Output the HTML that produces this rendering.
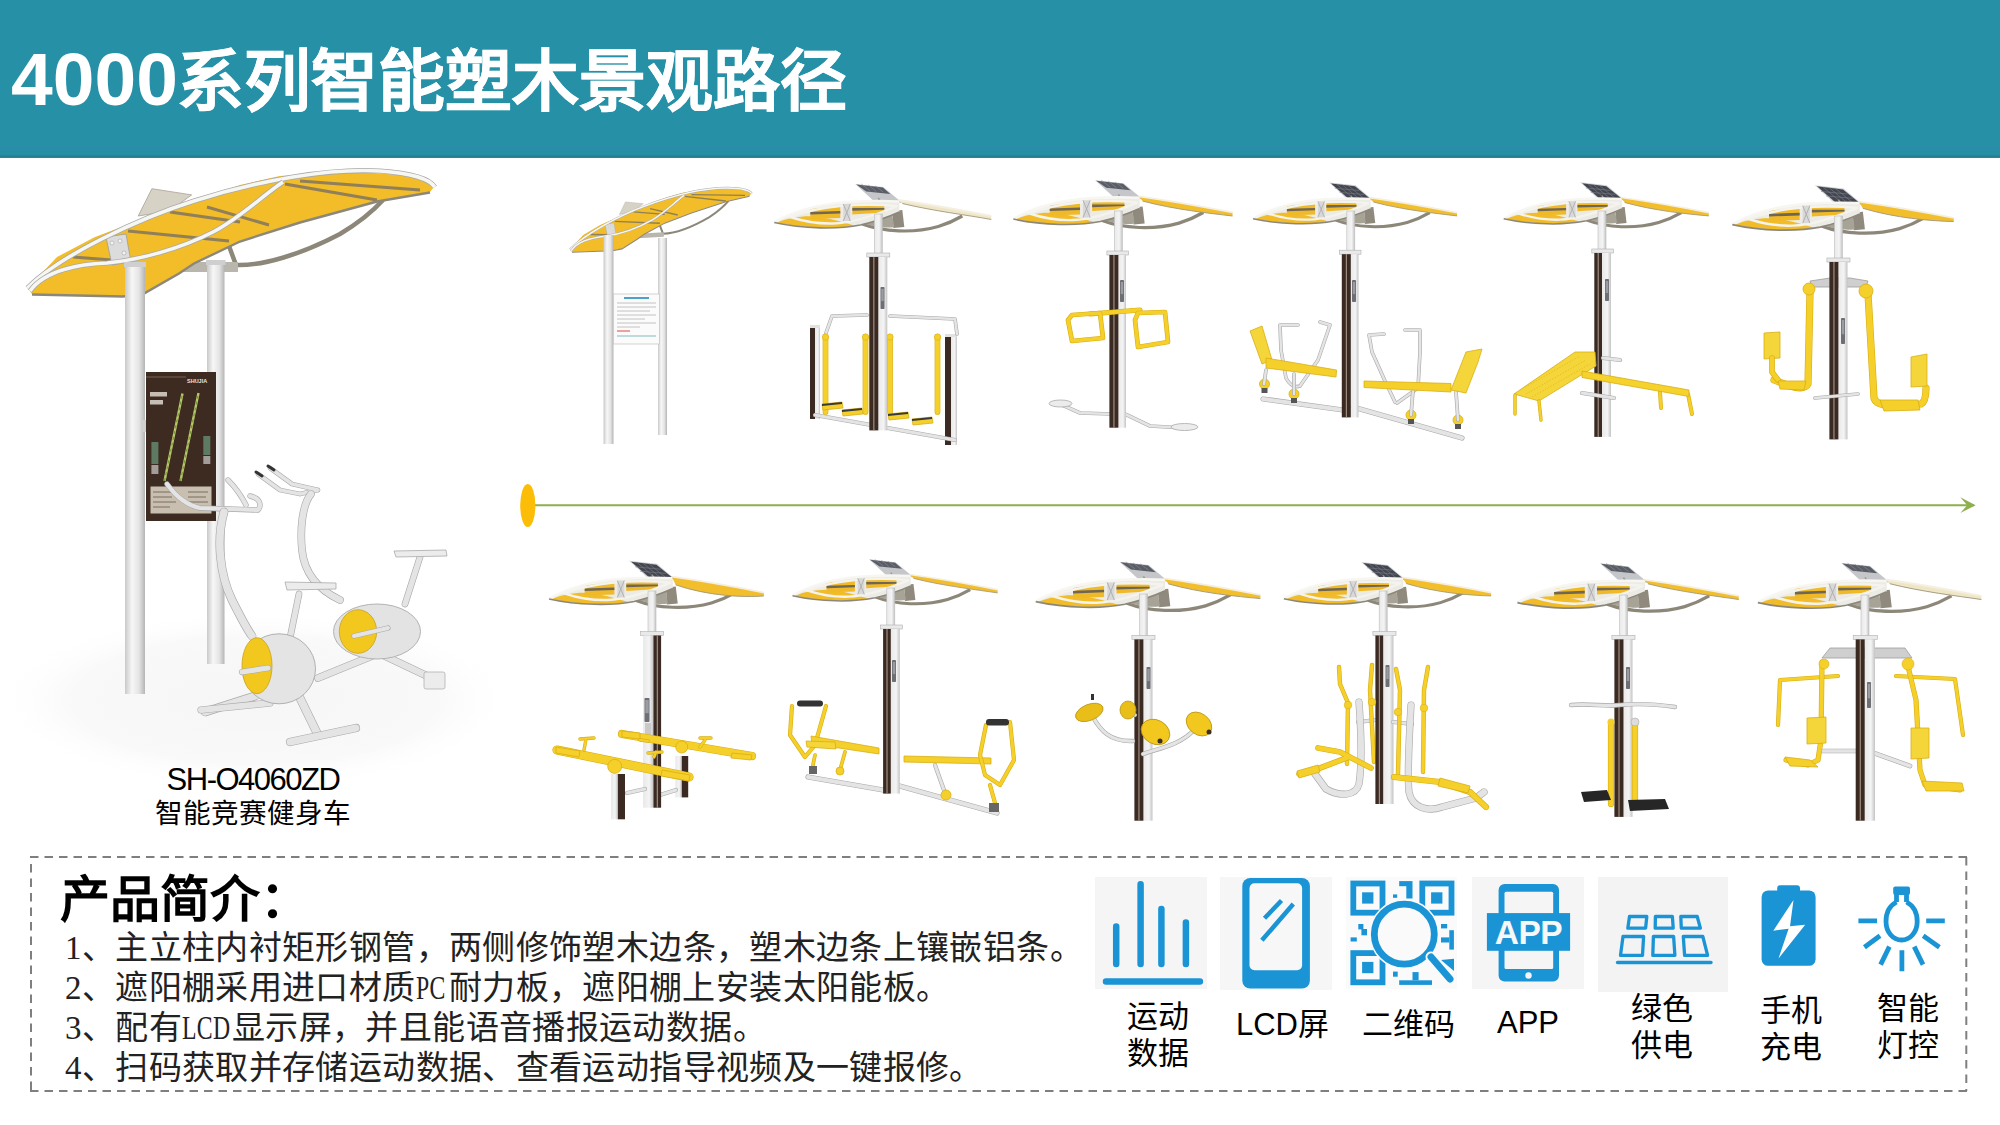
<!DOCTYPE html>
<html lang="zh-CN">
<head>
<meta charset="utf-8">
<title>4000系列智能塑木景观路径</title>
<style>
html,body{margin:0;padding:0;background:#fff;}
body{position:relative;width:2000px;height:1125px;overflow:hidden;font-family:"Liberation Sans",sans-serif;color:#000;}
.hdr{position:absolute;left:0;top:0;width:2000px;height:158px;background:linear-gradient(to bottom,#2690a7 0,#2690a7 92%,#2a8bab 94.5%,#24909e 96%,#2690a7 97.5%,#217f90 99%,#2a8a9c 100%);}
.title{position:absolute;left:11px;top:29px;font-size:66.8px;line-height:100px;font-weight:bold;color:#fff;white-space:nowrap;letter-spacing:0;}
.title .dg{font-size:75px;}
.title .cj{margin-left:-0.5px;-webkit-text-stroke:0.5px #fff;}
svg.art{position:absolute;left:0;top:0;}
.cap1{position:absolute;left:0;width:506px;top:761.5px;text-align:center;font-size:31px;letter-spacing:-1.5px;line-height:36px;white-space:nowrap;}
.cap2{position:absolute;left:0;width:506px;top:796px;text-align:center;font-size:27.6px;line-height:36px;white-space:nowrap;}
.intro-h{position:absolute;left:60px;top:870px;font-family:"Liberation Serif",serif;font-weight:bold;font-size:50px;line-height:60px;white-space:nowrap;}
.intro{position:absolute;left:65px;top:928px;font-family:"Liberation Serif",serif;color:#222;font-size:33px;letter-spacing:0.37px;line-height:40px;white-space:nowrap;}
.intro div{height:40px;}
.hw{display:inline-block;transform:scaleX(0.72);transform-origin:0 0;}
.hw2{display:inline-block;width:33.3px;}
.hw3{display:inline-block;width:50px;}
.lbl{position:absolute;font-size:31px;line-height:37px;text-align:center;white-space:nowrap;}
</style>
</head>
<body>
<div class="hdr"></div>
<div class="title"><span class="dg">4000</span><span class="cj">系列智能塑木景观路径</span></div>

<svg class="art" width="2000" height="1125" viewBox="0 0 2000 1125">
  <!--ART-->
  <defs>
<linearGradient id="rp" x1="0" x2="1" y1="0" y2="0">
 <stop offset="0" stop-color="#c9c9c9"/><stop offset="0.35" stop-color="#f7f7f7"/><stop offset="0.7" stop-color="#e4e4e4"/><stop offset="1" stop-color="#b5b5b5"/>
</linearGradient>
<linearGradient id="sv" x1="0" x2="1" y1="0" y2="0">
 <stop offset="0" stop-color="#e9e9e9"/><stop offset="0.6" stop-color="#f4f4f4"/><stop offset="1" stop-color="#c4c4c4"/>
</linearGradient>
<radialGradient id="floor" cx="0.5" cy="0.5" r="0.5">
 <stop offset="0" stop-color="#f6f6f6"/><stop offset="0.7" stop-color="#f9f9f9"/><stop offset="1" stop-color="#ffffff" stop-opacity="0"/>
</radialGradient>
<g id="can">
 <!-- underside crescent -->
 <path d="M-16,6 C5,14 35,15.5 60,8.5 C70,5.5 78,1.5 84,-2" fill="none" stroke="#8c8779" stroke-width="3.2"/>
 <path d="M14,-7 L24,-8 L26,9 L15,10 Z" fill="#8f8a7d"/>
 <path d="M-16,5 C0,10 10,10 16,9 L14,-3 Z" fill="#a7a397"/>
 <!-- lens -->
 <path d="M-104,4.5 C-88,-5 -62,-13.5 -30,-16 C-5,-17.5 10,-17 21,-16.5 L21,-6 C10,-1 -5,4 -18,7 C-40,11.5 -75,11 -104,4.5 Z" fill="#ecebe6"/>
 <!-- yellow lower-left band -->
 <path d="M-101,4.5 C-88,-1 -72,-3 -58,-1 C-46,1 -36,4 -24,7.5 C-42,11 -75,10.5 -101,4.5 Z" fill="#f1bc28"/>
 <!-- inner yellow panels -->
 <path d="M-68,-9.5 L-38,-11 L-38,0 L-68,1 Z" fill="#f0b928"/>
 <path d="M-26,-13 L6,-13 L6,-5.5 L-26,-3.5 Z" fill="#f0b928"/>
 <path d="M-68,-6 L-38,-7 L-38,-4.5 L-68,-3.5 Z" fill="#6f6653"/>
 <path d="M-26,-10 L6,-10 L6,-8.3 L-26,-7.3 Z" fill="#6f6653"/>
 <!-- inner tube loop -->
 <path d="M-88,-1 C-60,-12 -20,-15.5 19,-12 C0,-4 -25,5 -45,5.5 C-62,6 -76,3 -88,-1 Z" fill="none" stroke="#f4f3ee" stroke-width="2.4"/>
 <!-- rims -->
 <path d="M-104,4.5 C-88,-5 -62,-13.5 -30,-16 C-5,-17.5 10,-17 21,-16.5" fill="none" stroke="#f7f6f1" stroke-width="2.6"/>
 <path d="M-104,4.5 C-75,11 -40,11.5 -18,7 C-5,4 10,-1 21,-6" fill="none" stroke="#8c8779" stroke-width="1.6"/>
 <!-- bracket -->
 <rect x="-35" y="-14" width="7" height="17" fill="#d8d8d8"/>
 <path d="M-35,-14 L-28,3 M-28,-14 L-35,3" stroke="#a8a8a8" stroke-width="0.8"/>
</g>
</defs>
  <g id="big">
  <ellipse cx="255" cy="700" rx="260" ry="90" fill="url(#floor)"/>
  <g id="bigcan">
  <polygon points="151.9,188.7 191.7,194.9 169.3,211.1 138.2,216" fill="#d6d2c6" stroke="#a8a294" stroke-width="0.8"/>
  <path d="M229,246 L236,265 C262,266 300,255 340,234 C360,222 374,210 383,200" fill="none" stroke="#8c8779" stroke-width="4.5"/>
  <path d="M180,262 L238,262 L238,272 L180,272 Z" fill="#b9b6ad"/>
  <polygon points="27.5,288.2 57,257 95,237 144,218.5 194,201 240,185 280,176 345,171 414,176 434.7,186 430,192 377,201 300,222 240,241 194,263 179,273 144,293 123,296 32,294" fill="#f2bd28"/>
  <path d="M170,212 L240,222 M128,231 L229,241 M73,257 L112,260 M285,184 L377,200 M207,207 L269,225 M300,181 L420,190" stroke="#7f7460" stroke-width="3" fill="none" opacity="0.85"/>
  <path d="M32,294.5 L123,296.5 L144,293.5 L179,273.5 L194,263.5 L240,241.5 L300,222.5 L377,201.5 L430,192.5" fill="none" stroke="#8c8779" stroke-width="2.4"/>
  <polygon points="106,237 126,234 131,262 112,265" fill="#dcdcdc" stroke="#9d9d9d" stroke-width="0.8"/>
  <circle cx="112" cy="243" r="2" fill="#f4f4f4" stroke="#999" stroke-width="0.5"/><circle cx="120" cy="241" r="2" fill="#f4f4f4" stroke="#999" stroke-width="0.5"/><circle cx="124" cy="253" r="2" fill="#f4f4f4" stroke="#999" stroke-width="0.5"/>
  <path d="M27.5,288 C60,255 140,218 194,201 C260,180 330,168 380,171 C410,173 430,179 434.7,187" fill="none" stroke="#a9a9a9" stroke-width="5.2"/>
  <path d="M27.5,288 C60,255 140,218 194,201 C260,180 330,168 380,171 C410,173 430,179 434.7,187" fill="none" stroke="#f6f6f3" stroke-width="3.6"/>
  <path d="M30,291 C45,270 80,264 107,263 C140,260 182,248 213,232 C240,218 262,196 283,182" fill="none" stroke="#a9a9a9" stroke-width="5.2"/>
  <path d="M30,291 C45,270 80,264 107,263 C140,260 182,248 213,232 C240,218 262,196 283,182" fill="none" stroke="#f6f6f3" stroke-width="3.6"/>
  </g>
  <rect x="125" y="262" width="20" height="432" fill="url(#rp)"/>
  <rect x="207" y="260" width="17.5" height="404" fill="url(#rp)"/>
  <rect x="124" y="262" width="22" height="5" fill="#cfcfcf"/>
  <rect x="206" y="260" width="19.5" height="5" fill="#cfcfcf"/>
  <rect x="141" y="420" width="5" height="12" fill="#cfcfcf"/>
  <rect x="146" y="372" width="70" height="149" fill="#3d2a21"/>
  <rect x="146" y="376" width="40" height="2" fill="#5a4538"/>
  <text x="187" y="383" font-size="5.5" fill="#e6e6e6" font-family="Liberation Sans" font-weight="bold">SHUJIA</text>
  <rect x="150" y="392" width="17" height="4.5" fill="#e8e2da" opacity="0.8"/><rect x="150" y="400" width="13" height="4.5" fill="#e8e2da" opacity="0.8"/>
  <path d="M164.5,481 L182.5,393.5 M180.5,481 L198.5,393" stroke="#b9c56a" stroke-width="2.4"/>
  <path d="M164.5,481 L182.5,393.5 M180.5,481 L198.5,393" stroke="#6f9a35" stroke-width="1.2" stroke-dasharray="3 3"/>
  <rect x="151.4" y="442" width="7" height="22" fill="#5f7a63"/><rect x="151.4" y="465" width="7" height="9" fill="#cfcfcf" opacity="0.7"/>
  <rect x="203.3" y="436" width="7" height="19" fill="#5f7a63"/><rect x="203.3" y="456" width="7" height="8" fill="#cfcfcf" opacity="0.7"/>
  <rect x="150.5" y="486.5" width="61" height="27" fill="#c9bfb1"/>
  <path d="M153,492 H175 M153,497 H172 M153,502 H176 M153,507 H170 M188,492 H208 M188,497 H206 M188,502 H208" stroke="#7b6d60" stroke-width="1"/>
  <path d="M258,474 L280,490 L300,494 M270,468 L292,484 L318,490 M300,494 L318,490" fill="none" stroke="#a9a9a9" stroke-width="4.7" stroke-linecap="round" stroke-linejoin="round"/>
  <path d="M258,474 L280,490 L300,494 M270,468 L292,484 L318,490 M300,494 L318,490" fill="none" stroke="#e4e4e4" stroke-width="3.5" stroke-linecap="round" stroke-linejoin="round"/>
  <path d="M256,472 L262,476" stroke="#333" stroke-width="3" stroke-linecap="round"/><path d="M268,466 L274,470" stroke="#333" stroke-width="3" stroke-linecap="round"/>
  <path d="M311,494 C302,505 300,530 302,550 C304,570 315,588 340,600" fill="none" stroke="#a9a9a9" stroke-width="7.7" stroke-linecap="round" stroke-linejoin="round"/>
  <path d="M311,494 C302,505 300,530 302,550 C304,570 315,588 340,600" fill="none" stroke="#e4e4e4" stroke-width="6.5" stroke-linecap="round" stroke-linejoin="round"/>
  <path d="M372,656 L318,678 M385,656 L425,675 L440,682" fill="none" stroke="#a9a9a9" stroke-width="7.7" stroke-linecap="round" stroke-linejoin="round"/>
  <path d="M372,656 L318,678 M385,656 L425,675 L440,682" fill="none" stroke="#e4e4e4" stroke-width="6.5" stroke-linecap="round" stroke-linejoin="round"/>
  <path d="M420,557 L405,604" fill="none" stroke="#a9a9a9" stroke-width="6.7" stroke-linecap="round" stroke-linejoin="round"/>
  <path d="M420,557 L405,604" fill="none" stroke="#e4e4e4" stroke-width="5.5" stroke-linecap="round" stroke-linejoin="round"/>
  <path d="M394,551 L446,550 L447,556 L396,557 Z" fill="#ececec" stroke="#a9a9a9" stroke-width="0.8"/>
  <rect x="424" y="672" width="21" height="17" rx="2" fill="#ececec" stroke="#aaa" stroke-width="0.7"/>
  <ellipse cx="377" cy="631.5" rx="43.5" ry="27.5" fill="#e3e3e3" stroke="#b3b3b3" stroke-width="1"/>
  <ellipse cx="358" cy="631.5" rx="18.7" ry="21.8" fill="#f2c81e" stroke="#c9a21a" stroke-width="0.8"/>
  <path d="M354,636 L388,628" fill="none" stroke="#a9a9a9" stroke-width="5.2" stroke-linecap="round" stroke-linejoin="round"/>
  <path d="M354,636 L388,628" fill="none" stroke="#e4e4e4" stroke-width="4" stroke-linecap="round" stroke-linejoin="round"/>
  <path d="M167,484 C175,495 185,505 200,508 L258,510 C262,505 260,498 250,496 M228,480 C236,488 242,497 246,505" fill="none" stroke="#a9a9a9" stroke-width="5.4" stroke-linecap="round" stroke-linejoin="round"/>
  <path d="M167,484 C175,495 185,505 200,508 L258,510 C262,505 260,498 250,496 M228,480 C236,488 242,497 246,505" fill="none" stroke="#e4e4e4" stroke-width="4.2" stroke-linecap="round" stroke-linejoin="round"/>
  <path d="M224,512 C216,540 220,575 232,600 C240,616 246,628 252,636" fill="none" stroke="#a9a9a9" stroke-width="8.7" stroke-linecap="round" stroke-linejoin="round"/>
  <path d="M224,512 C216,540 220,575 232,600 C240,616 246,628 252,636" fill="none" stroke="#e4e4e4" stroke-width="7.5" stroke-linecap="round" stroke-linejoin="round"/>
  <path d="M299,594 L290,638" fill="none" stroke="#a9a9a9" stroke-width="6.7" stroke-linecap="round" stroke-linejoin="round"/>
  <path d="M299,594 L290,638" fill="none" stroke="#e4e4e4" stroke-width="5.5" stroke-linecap="round" stroke-linejoin="round"/>
  <path d="M285,582 L336,583 L336,589 L287,590 Z" fill="#ececec" stroke="#a9a9a9" stroke-width="0.8"/>
  <path d="M255,696 L205,712 M300,698 L318,735" fill="none" stroke="#a9a9a9" stroke-width="8.7" stroke-linecap="round" stroke-linejoin="round"/>
  <path d="M255,696 L205,712 M300,698 L318,735" fill="none" stroke="#e4e4e4" stroke-width="7.5" stroke-linecap="round" stroke-linejoin="round"/>
  <path d="M290,742 L356,728" fill="none" stroke="#a9a9a9" stroke-width="8.2" stroke-linecap="round" stroke-linejoin="round"/>
  <path d="M290,742 L356,728" fill="none" stroke="#e4e4e4" stroke-width="7" stroke-linecap="round" stroke-linejoin="round"/>
  <path d="M201,710 L270,703" fill="none" stroke="#a9a9a9" stroke-width="7.2" stroke-linecap="round" stroke-linejoin="round"/>
  <path d="M201,710 L270,703" fill="none" stroke="#e4e4e4" stroke-width="6" stroke-linecap="round" stroke-linejoin="round"/>
  <ellipse cx="279" cy="668.8" rx="36.5" ry="35" fill="#e4e4e4" stroke="#b0b0b0" stroke-width="1"/>
  <ellipse cx="257" cy="665.7" rx="15" ry="28" fill="#f2c81e" stroke="#c9a21a" stroke-width="0.8"/>
  <path d="M242,672 L268,668" fill="none" stroke="#a9a9a9" stroke-width="6.2" stroke-linecap="round" stroke-linejoin="round"/>
  <path d="M242,672 L268,668" fill="none" stroke="#e4e4e4" stroke-width="5" stroke-linecap="round" stroke-linejoin="round"/>
  </g>
  <g id="t1">
  <use href="#bigcan" transform="matrix(0.446,-0.0265,0,0.446,557.73,121.79)"/>
  <rect x="603.5" y="235" width="10" height="209" fill="url(#rp)"/>
  <rect x="658" y="238" width="9" height="197" fill="url(#rp)"/>
  <rect x="613.5" y="294" width="46" height="50" fill="#fbfbfb" stroke="#c8c8c8" stroke-width="0.8"/>
  <rect x="624" y="297" width="25" height="2" fill="#4ba3c8"/>
  <path d="M617,303 H656 M617,307 H656 M617,311 H650 M617,315 H656 M617,319 H645 M617,323 H656 M617,327 H640" stroke="#b5b5b5" stroke-width="0.8"/>
  <path d="M617,331 H630" stroke="#d44" stroke-width="1"/><path d="M617,336 H656" stroke="#6aa" stroke-width="0.8"/>
  </g>
  <g transform="translate(878.3,218) scale(1.0,1.0)">
  <path d="M-23,-34 L5,-31 L24,-15 L-4,-16.5 Z" fill="#c4c6ca"/>
  <path d="M-22,-33.5 L4.5,-30.5 L12,-24 L-12,-26.5 Z" fill="#5a5d66"/>
  <path d="M-17,-34 L-8,-27 M-10,-33 L-2,-26.5 M-3,-32 L5,-26" stroke="#8b8e96" stroke-width="0.6" fill="none"/>
  <path d="M0,-20 L3,-15" stroke="#999" stroke-width="1.5"/>
  <use href="#can"/>
  <path d="M20,-18 C45,-14.5 80,-8.5 113,-2 L113,1.5 C90,-2.8 55,-7.0 24,-14.5 Z" fill="#efe6c6"/>
  <path d="M24,-14.5 C55,-7.0 90,-2.8 113,1.5" fill="none" stroke="#a0977e" stroke-width="0.9"/>
  <path d="M20,-18 C45,-14.5 80,-8.5 113,-2" fill="none" stroke="#f4efe0" stroke-width="1.8"/>
  </g>
  <rect x="874.3" y="214" width="8" height="40" fill="url(#sv)" stroke="#bdbdbd" stroke-width="0.6"/>
  <rect x="810" y="325" width="5.0" height="94" fill="#3a2a22"/>
  <rect x="815.0" y="325" width="5.0" height="94" fill="url(#sv)"/>
  <rect x="810" y="325" width="10" height="3" fill="#e2e2e2"/>
  <rect x="945" y="334" width="6.0" height="111" fill="#3a2a22"/>
  <rect x="951.0" y="334" width="6.0" height="111" fill="url(#sv)"/>
  <rect x="945" y="334" width="12" height="3" fill="#e2e2e2"/>
  <path d="M826,333 L832,316 L867,315 M890,316 L955,319 L957,334" fill="none" stroke="#a9a9a9" stroke-width="3.7" stroke-linecap="round" stroke-linejoin="round"/>
  <path d="M826,333 L832,316 L867,315 M890,316 L955,319 L957,334" fill="none" stroke="#e4e4e4" stroke-width="2.5" stroke-linecap="round" stroke-linejoin="round"/>
  <path d="M815,415 L955,440" fill="none" stroke="#a9a9a9" stroke-width="4.2" stroke-linecap="round" stroke-linejoin="round"/>
  <path d="M815,415 L955,440" fill="none" stroke="#e4e4e4" stroke-width="3" stroke-linecap="round" stroke-linejoin="round"/>
  <path d="M825.5,337 L825.5,412" fill="none" stroke="#d8ae12" stroke-width="5.7" stroke-linecap="round" stroke-linejoin="round"/>
  <path d="M825.5,337 L825.5,412" fill="none" stroke="#f6d02a" stroke-width="4.5" stroke-linecap="round" stroke-linejoin="round"/>
  <circle cx="825.5" cy="337" r="3.2" fill="#f6d02a" stroke="#d8ae12" stroke-width="0.6"/>
  <path d="M865.5,337 L865.5,412" fill="none" stroke="#d8ae12" stroke-width="5.7" stroke-linecap="round" stroke-linejoin="round"/>
  <path d="M865.5,337 L865.5,412" fill="none" stroke="#f6d02a" stroke-width="4.5" stroke-linecap="round" stroke-linejoin="round"/>
  <circle cx="865.5" cy="337" r="3.2" fill="#f6d02a" stroke="#d8ae12" stroke-width="0.6"/>
  <path d="M890,337 L890,412" fill="none" stroke="#d8ae12" stroke-width="5.7" stroke-linecap="round" stroke-linejoin="round"/>
  <path d="M890,337 L890,412" fill="none" stroke="#f6d02a" stroke-width="4.5" stroke-linecap="round" stroke-linejoin="round"/>
  <circle cx="890" cy="337" r="3.2" fill="#f6d02a" stroke="#d8ae12" stroke-width="0.6"/>
  <path d="M937.5,337 L937.5,412" fill="none" stroke="#d8ae12" stroke-width="5.7" stroke-linecap="round" stroke-linejoin="round"/>
  <path d="M937.5,337 L937.5,412" fill="none" stroke="#f6d02a" stroke-width="4.5" stroke-linecap="round" stroke-linejoin="round"/>
  <circle cx="937.5" cy="337" r="3.2" fill="#f6d02a" stroke="#d8ae12" stroke-width="0.6"/>
  <polygon points="822,404 842,402 843,408 823,410" fill="#f6d02a" stroke="#d8ae12" stroke-width="0.8"/>
  <polygon points="822,404 842,402 842,404 822,406" fill="#3a3a3a"/>
  <polygon points="842,410 862,408 863,414 843,416" fill="#f6d02a" stroke="#d8ae12" stroke-width="0.8"/>
  <polygon points="842,410 862,408 862,410 842,412" fill="#3a3a3a"/>
  <polygon points="888,414 908,412 909,418 889,420" fill="#f6d02a" stroke="#d8ae12" stroke-width="0.8"/>
  <polygon points="888,414 908,412 908,414 888,416" fill="#3a3a3a"/>
  <polygon points="912,419 932,417 933,423 913,425" fill="#f6d02a" stroke="#d8ae12" stroke-width="0.8"/>
  <polygon points="912,419 932,417 932,419 912,421" fill="#3a3a3a"/>
  <rect x="866.8" y="253" width="23.0" height="4" fill="#e9e9e9" stroke="#b0b0b0" stroke-width="0.6"/>
  <rect x="878.3" y="257" width="9.0" height="173.39999999999998" fill="url(#sv)"/>
  <rect x="869.3" y="257" width="9.0" height="173.39999999999998" fill="#3a2a22"/>
  <rect x="873.3" y="257" width="1.1" height="173.39999999999998" fill="#a8968a"/>
  <rect x="880.5" y="287" width="4" height="22" fill="#6d6f74" rx="0.8"/>
  <rect x="881.3" y="289" width="2.4" height="12.100000000000001" fill="#9a9ca2"/>
  <g transform="translate(1118.4,214.5) scale(1.01,1.01)">
  <path d="M-23,-34 L5,-31 L24,-15 L-4,-16.5 Z" fill="#c4c6ca"/>
  <path d="M-22,-33.5 L4.5,-30.5 L12,-24 L-12,-26.5 Z" fill="#5a5d66"/>
  <path d="M-17,-34 L-8,-27 M-10,-33 L-2,-26.5 M-3,-32 L5,-26" stroke="#8b8e96" stroke-width="0.6" fill="none"/>
  <path d="M0,-20 L3,-15" stroke="#999" stroke-width="1.5"/>
  <use href="#can"/>
  <path d="M20,-18 C45,-14.5 80,-8.5 113,-2 L113,1.5 C90,-1.2 55,-5.0 24,-13.3 Z" fill="#f2be2c"/>
  <path d="M24,-13.3 C55,-5.0 90,-1.2 113,1.5" fill="none" stroke="#a0977e" stroke-width="0.9"/>
  <path d="M20,-18 C45,-14.5 80,-8.5 113,-2" fill="none" stroke="#f4efe0" stroke-width="1.8"/>
  </g>
  <rect x="1114.4" y="211" width="8" height="41" fill="url(#sv)" stroke="#bdbdbd" stroke-width="0.6"/>
  <path d="M1060,404 L1080,413 L1112,414 M1125,414 L1150,426 L1185,428" fill="none" stroke="#a9a9a9" stroke-width="3.7" stroke-linecap="round" stroke-linejoin="round"/>
  <path d="M1060,404 L1080,413 L1112,414 M1125,414 L1150,426 L1185,428" fill="none" stroke="#e4e4e4" stroke-width="2.5" stroke-linecap="round" stroke-linejoin="round"/>
  <ellipse cx="1060.5" cy="403.5" rx="11.5" ry="3.5" fill="#ececec" stroke="#aaa" stroke-width="0.8"/>
  <ellipse cx="1184.5" cy="427" rx="13.5" ry="3.5" fill="#ececec" stroke="#aaa" stroke-width="0.8"/>
  <rect x="1106.9" y="251" width="21.59999999999991" height="4" fill="#e9e9e9" stroke="#b0b0b0" stroke-width="0.6"/>
  <rect x="1118.4" y="255" width="7.599999999999909" height="172.7" fill="url(#sv)"/>
  <rect x="1109.4" y="255" width="9.0" height="172.7" fill="#3a2a22"/>
  <rect x="1113.4" y="255" width="1.1" height="172.7" fill="#a8968a"/>
  <rect x="1120" y="280" width="4" height="22" fill="#6d6f74" rx="0.8"/>
  <rect x="1120.8" y="282" width="2.4" height="12.100000000000001" fill="#9a9ca2"/>
  <path d="M1090,314 L1140,310" fill="none" stroke="#d8ae12" stroke-width="5.2" stroke-linecap="round" stroke-linejoin="round"/>
  <path d="M1090,314 L1140,310" fill="none" stroke="#f6d02a" stroke-width="4" stroke-linecap="round" stroke-linejoin="round"/>
  <path d="M1072,315 L1100,313 L1103,338 L1072,341 L1068,320 Z" fill="none" stroke="#d8ae12" stroke-width="4.7" stroke-linecap="round" stroke-linejoin="round"/>
  <path d="M1072,315 L1100,313 L1103,338 L1072,341 L1068,320 Z" fill="none" stroke="#f6d02a" stroke-width="3.5" stroke-linecap="round" stroke-linejoin="round"/>
  <path d="M1138,313 L1165,312 L1168,342 L1138,347 L1135,320 Z" fill="none" stroke="#d8ae12" stroke-width="4.7" stroke-linecap="round" stroke-linejoin="round"/>
  <path d="M1138,313 L1165,312 L1168,342 L1138,347 L1135,320 Z" fill="none" stroke="#f6d02a" stroke-width="3.5" stroke-linecap="round" stroke-linejoin="round"/>
  <g transform="translate(1350.8,214.5) scale(0.94,0.94)">
  <path d="M-23,-34 L5,-31 L24,-15 L-4,-16.5 Z" fill="#d0d1d3"/><path d="M-21,-33 L4.5,-30 L22,-15.8 L-3,-17.3 Z" fill="#43464f"/>
  <path d="M-15,-32.3 L3,-17 M-9,-31.6 L9,-16.6 M-3,-31 L15,-16.2 M-17,-28 L9,-25.5 M-12,-23.5 L14,-21.3" stroke="#7d818b" stroke-width="0.6" fill="none"/>
  <path d="M0,-20 L3,-15" stroke="#999" stroke-width="1.5"/>
  <use href="#can"/>
  <path d="M20,-18 C45,-14.5 80,-8.5 113,-2 L113,1.5 C90,-1.2 55,-5.0 24,-13.3 Z" fill="#f2be2c"/>
  <path d="M24,-13.3 C55,-5.0 90,-1.2 113,1.5" fill="none" stroke="#a0977e" stroke-width="0.9"/>
  <path d="M20,-18 C45,-14.5 80,-8.5 113,-2" fill="none" stroke="#f4efe0" stroke-width="1.8"/>
  </g>
  <rect x="1346.8" y="211" width="8" height="40.19999999999999" fill="url(#sv)" stroke="#bdbdbd" stroke-width="0.6"/>
  <path d="M1263,399 L1343,410 M1353,407 L1462,438" fill="none" stroke="#a9a9a9" stroke-width="5.2" stroke-linecap="round" stroke-linejoin="round"/>
  <path d="M1263,399 L1343,410 M1353,407 L1462,438" fill="none" stroke="#e4e4e4" stroke-width="4" stroke-linecap="round" stroke-linejoin="round"/>
  <rect x="1339.3" y="250.2" width="21.700000000000045" height="4" fill="#e9e9e9" stroke="#b0b0b0" stroke-width="0.6"/>
  <rect x="1350.8" y="254.2" width="7.7000000000000455" height="163.2" fill="url(#sv)"/>
  <rect x="1341.8" y="254.2" width="9.0" height="163.2" fill="#3a2a22"/>
  <rect x="1345.8" y="254.2" width="1.1" height="163.2" fill="#a8968a"/>
  <rect x="1352" y="280" width="4" height="22" fill="#6d6f74" rx="0.8"/>
  <rect x="1352.8" y="282" width="2.4" height="12.100000000000001" fill="#9a9ca2"/>
  <path d="M1298,325 L1280,325 L1281,350 L1286,378 Q1292,389 1300,386 L1318,360 L1330,325 L1320,322" fill="none" stroke="#a9a9a9" stroke-width="3.5999999999999996" stroke-linecap="round" stroke-linejoin="round"/>
  <path d="M1298,325 L1280,325 L1281,350 L1286,378 Q1292,389 1300,386 L1318,360 L1330,325 L1320,322" fill="none" stroke="#e4e4e4" stroke-width="2.4" stroke-linecap="round" stroke-linejoin="round"/>
  <path d="M1384,334 L1369,335 L1372,352 L1385,381 L1395,402 M1405,330 L1420,330 L1420,352 L1418,388 L1397,403" fill="none" stroke="#a9a9a9" stroke-width="3.5999999999999996" stroke-linecap="round" stroke-linejoin="round"/>
  <path d="M1384,334 L1369,335 L1372,352 L1385,381 L1395,402 M1405,330 L1420,330 L1420,352 L1418,388 L1397,403" fill="none" stroke="#e4e4e4" stroke-width="2.4" stroke-linecap="round" stroke-linejoin="round"/>
  <polygon points="1250,331 1262,326 1272,360 1262,364" fill="#f5d63a" stroke="#d8ae12" stroke-width="0.8"/>
  <polygon points="1266,358 1336.6,370 1336,377 1266,368" fill="#f6d02a" stroke="#d8ae12" stroke-width="0.8"/>
  <circle cx="1264.5" cy="384" r="5" fill="#f6d02a" stroke="#d8ae12" stroke-width="0.8"/>
  <rect x="1261.5" y="388" width="6" height="5" fill="#555"/>
  <circle cx="1294" cy="394" r="5" fill="#f6d02a" stroke="#d8ae12" stroke-width="0.8"/>
  <rect x="1291" y="398" width="6" height="5" fill="#555"/>
  <circle cx="1411" cy="415" r="5" fill="#f6d02a" stroke="#d8ae12" stroke-width="0.8"/>
  <rect x="1408" y="419" width="6" height="5" fill="#555"/>
  <circle cx="1458" cy="420" r="5" fill="#f6d02a" stroke="#d8ae12" stroke-width="0.8"/>
  <rect x="1455" y="424" width="6" height="5" fill="#555"/>
  <path d="M1266,370 L1264,384 M1294,374 L1294,394 M1413,390 L1411,415 M1456,392 L1458,420" fill="none" stroke="#a9a9a9" stroke-width="3.7" stroke-linecap="round" stroke-linejoin="round"/>
  <path d="M1266,370 L1264,384 M1294,374 L1294,394 M1413,390 L1411,415 M1456,392 L1458,420" fill="none" stroke="#e4e4e4" stroke-width="2.5" stroke-linecap="round" stroke-linejoin="round"/>
  <polygon points="1364,381 1451,383.5 1451,392 1364,387.5" fill="#f6d02a" stroke="#d8ae12" stroke-width="0.8"/>
  <polygon points="1451,390 1466,352 1482,349 1478,362 1466,393" fill="#f5d63a" stroke="#d8ae12" stroke-width="0.8"/>
  <g transform="translate(1602,214.5) scale(0.945,0.945)">
  <path d="M-23,-34 L5,-31 L24,-15 L-4,-16.5 Z" fill="#d0d1d3"/><path d="M-21,-33 L4.5,-30 L22,-15.8 L-3,-17.3 Z" fill="#43464f"/>
  <path d="M-15,-32.3 L3,-17 M-9,-31.6 L9,-16.6 M-3,-31 L15,-16.2 M-17,-28 L9,-25.5 M-12,-23.5 L14,-21.3" stroke="#7d818b" stroke-width="0.6" fill="none"/>
  <path d="M0,-20 L3,-15" stroke="#999" stroke-width="1.5"/>
  <use href="#can"/>
  <path d="M20,-18 C45,-14.5 80,-8.5 113,-2 L113,1.5 C90,-0.5 55,-4.0 24,-12.7 Z" fill="#f2be2c"/>
  <path d="M24,-12.7 C55,-4.0 90,-0.5 113,1.5" fill="none" stroke="#a0977e" stroke-width="0.9"/>
  <path d="M20,-18 C45,-14.5 80,-8.5 113,-2" fill="none" stroke="#f4efe0" stroke-width="1.8"/>
  </g>
  <rect x="1598" y="211" width="8" height="39" fill="url(#sv)" stroke="#bdbdbd" stroke-width="0.6"/>
  <rect x="1591.8" y="249" width="21.700000000000045" height="4" fill="#e9e9e9" stroke="#b0b0b0" stroke-width="0.6"/>
  <rect x="1602" y="253" width="9" height="183.89999999999998" fill="url(#sv)"/>
  <rect x="1594.3" y="253" width="7.7000000000000455" height="183.89999999999998" fill="#3a2a22"/>
  <rect x="1597.65" y="253" width="1.1" height="183.89999999999998" fill="#a8968a"/>
  <rect x="1605" y="279" width="4" height="22" fill="#6d6f74" rx="0.8"/>
  <rect x="1605.8" y="281" width="2.4" height="12.100000000000001" fill="#9a9ca2"/>
  <polygon points="1514,394 1575,352 1595,352 1596,366 1539,401" fill="#f5d63a" stroke="#d8ae12" stroke-width="0.8"/>
  <path d="M1520,390 L1580,356 M1526,394 L1586,360 M1532,397 L1590,364" stroke="#e3b91c" stroke-width="0.8" stroke-dasharray="1.5 1.5"/>
  <path d="M1515,395 L1515,414 M1539,401 L1541,420" fill="none" stroke="#d8ae12" stroke-width="3.4000000000000004" stroke-linecap="round" stroke-linejoin="round"/>
  <path d="M1515,395 L1515,414 M1539,401 L1541,420" fill="none" stroke="#f6d02a" stroke-width="2.2" stroke-linecap="round" stroke-linejoin="round"/>
  <path d="M1660,392 L1661,408 M1688,394 L1692,414" fill="none" stroke="#d8ae12" stroke-width="4.0" stroke-linecap="round" stroke-linejoin="round"/>
  <path d="M1660,392 L1661,408 M1688,394 L1692,414" fill="none" stroke="#f6d02a" stroke-width="2.8" stroke-linecap="round" stroke-linejoin="round"/>
  <polygon points="1582,371 1689,390 1689,396.5 1582,377.5" fill="#f5d22c" stroke="#d8ae12" stroke-width="0.8"/>
  <path d="M1582,393 L1614,398" fill="none" stroke="#a9a9a9" stroke-width="4.2" stroke-linecap="round" stroke-linejoin="round"/>
  <path d="M1582,393 L1614,398" fill="none" stroke="#e4e4e4" stroke-width="3" stroke-linecap="round" stroke-linejoin="round"/>
  <path d="M1603,358 L1620,360" fill="none" stroke="#a9a9a9" stroke-width="4.2" stroke-linecap="round" stroke-linejoin="round"/>
  <path d="M1603,358 L1620,360" fill="none" stroke="#e4e4e4" stroke-width="3" stroke-linecap="round" stroke-linejoin="round"/>
  <g transform="translate(1838.4,220) scale(1.02,1.02)">
  <path d="M-23,-34 L5,-31 L24,-15 L-4,-16.5 Z" fill="#d0d1d3"/><path d="M-21,-33 L4.5,-30 L22,-15.8 L-3,-17.3 Z" fill="#43464f"/>
  <path d="M-15,-32.3 L3,-17 M-9,-31.6 L9,-16.6 M-3,-31 L15,-16.2 M-17,-28 L9,-25.5 M-12,-23.5 L14,-21.3" stroke="#7d818b" stroke-width="0.6" fill="none"/>
  <path d="M0,-20 L3,-15" stroke="#999" stroke-width="1.5"/>
  <use href="#can"/>
  <path d="M20,-18 C45,-14.5 80,-8.5 113,-2 L113,1.5 C90,1.0 55,-2.0 24,-11.5 Z" fill="#f2be2c"/>
  <path d="M24,-11.5 C55,-2.0 90,1.0 113,1.5" fill="none" stroke="#a0977e" stroke-width="0.9"/>
  <path d="M20,-18 C45,-14.5 80,-8.5 113,-2" fill="none" stroke="#f4efe0" stroke-width="1.8"/>
  </g>
  <rect x="1834.4" y="216" width="8" height="43" fill="url(#sv)" stroke="#bdbdbd" stroke-width="0.6"/>
  <polygon points="1810,281 1830,278 1850,278 1868,281 1866,287 1812,287" fill="#cfcfcf" stroke="#9d9d9d" stroke-width="0.8"/>
  <rect x="1826.9" y="258" width="23.09999999999991" height="4" fill="#e9e9e9" stroke="#b0b0b0" stroke-width="0.6"/>
  <rect x="1838.4" y="262" width="9.099999999999909" height="177.39999999999998" fill="url(#sv)"/>
  <rect x="1829.4" y="262" width="9.0" height="177.39999999999998" fill="#3a2a22"/>
  <rect x="1833.4" y="262" width="1.1" height="177.39999999999998" fill="#a8968a"/>
  <rect x="1841" y="318" width="4" height="26" fill="#6d6f74" rx="0.8"/>
  <rect x="1841.8" y="320" width="2.4" height="14.3" fill="#9a9ca2"/>
  <path d="M1815,398 L1858,394" fill="none" stroke="#a9a9a9" stroke-width="3.7" stroke-linecap="round" stroke-linejoin="round"/>
  <path d="M1815,398 L1858,394" fill="none" stroke="#e4e4e4" stroke-width="2.5" stroke-linecap="round" stroke-linejoin="round"/>
  <path d="M1810,292 L1808,384 C1806,388 1800,389 1790,386 L1774,380" fill="none" stroke="#d8ae12" stroke-width="7.2" stroke-linecap="round" stroke-linejoin="round"/>
  <path d="M1810,292 L1808,384 C1806,388 1800,389 1790,386 L1774,380" fill="none" stroke="#f6d02a" stroke-width="6" stroke-linecap="round" stroke-linejoin="round"/>
  <path d="M1868,294 L1874,398 C1876,404 1884,406 1896,405 L1921,404 C1925,402 1926,396 1926,388" fill="none" stroke="#d8ae12" stroke-width="7.2" stroke-linecap="round" stroke-linejoin="round"/>
  <path d="M1868,294 L1874,398 C1876,404 1884,406 1896,405 L1921,404 C1925,402 1926,396 1926,388" fill="none" stroke="#f6d02a" stroke-width="6" stroke-linecap="round" stroke-linejoin="round"/>
  <circle cx="1809" cy="289" r="6" fill="#f6d02a" stroke="#d8ae12" stroke-width="0.8"/>
  <circle cx="1866" cy="291" r="7" fill="#f6d02a" stroke="#d8ae12" stroke-width="0.8"/>
  <polygon points="1764,333 1780,332 1780,358 1764,359" fill="#f5d63a" stroke="#d8ae12" stroke-width="0.8"/>
  <path d="M1772,358 L1772,372 L1778,380" fill="none" stroke="#d8ae12" stroke-width="5.7" stroke-linecap="round" stroke-linejoin="round"/>
  <path d="M1772,358 L1772,372 L1778,380" fill="none" stroke="#f6d02a" stroke-width="4.5" stroke-linecap="round" stroke-linejoin="round"/>
  <polygon points="1911,357 1927,354 1927,386 1911,387" fill="#f5d63a" stroke="#d8ae12" stroke-width="0.8"/>
  <polygon points="1778,381 1806,381 1804,390 1780,389" fill="#f6d02a" stroke="#d8ae12" stroke-width="0.8"/>
  <polygon points="1880,400 1918,400 1920,410 1884,411" fill="#f6d02a" stroke="#d8ae12" stroke-width="0.8"/>
  <g transform="translate(652,594.5) scale(0.99,0.99)">
  <path d="M-23,-34 L5,-31 L24,-15 L-4,-16.5 Z" fill="#d0d1d3"/><path d="M-21,-33 L4.5,-30 L22,-15.8 L-3,-17.3 Z" fill="#43464f"/>
  <path d="M-15,-32.3 L3,-17 M-9,-31.6 L9,-16.6 M-3,-31 L15,-16.2 M-17,-28 L9,-25.5 M-12,-23.5 L14,-21.3" stroke="#7d818b" stroke-width="0.6" fill="none"/>
  <path d="M0,-20 L3,-15" stroke="#999" stroke-width="1.5"/>
  <use href="#can"/>
  <path d="M20,-18 C45,-14.5 80,-8.5 113,-2 L113,1.5 C90,3.2 55,1.0 24,-9.7 Z" fill="#f2be2c"/>
  <path d="M24,-9.7 C55,1.0 90,3.2 113,1.5" fill="none" stroke="#a0977e" stroke-width="0.9"/>
  <path d="M20,-18 C45,-14.5 80,-8.5 113,-2" fill="none" stroke="#f4efe0" stroke-width="1.8"/>
  </g>
  <rect x="648" y="591" width="8" height="41.5" fill="url(#sv)" stroke="#bdbdbd" stroke-width="0.6"/>
  <rect x="675.3" y="756" width="6.5" height="41.4" fill="url(#sv)"/><rect x="681.8" y="756" width="6.4" height="41.4" fill="#3a2a22"/>
  <path d="M660,795 L676,790" fill="none" stroke="#a9a9a9" stroke-width="4.2" stroke-linecap="round" stroke-linejoin="round"/>
  <path d="M660,795 L676,790" fill="none" stroke="#e4e4e4" stroke-width="3" stroke-linecap="round" stroke-linejoin="round"/>
  <rect x="640.5" y="631.5" width="23.100000000000023" height="4" fill="#e9e9e9" stroke="#b0b0b0" stroke-width="0.6"/>
  <rect x="643" y="635.5" width="10.399999999999977" height="172.20000000000005" fill="url(#sv)"/>
  <rect x="653.4" y="635.5" width="7.7000000000000455" height="172.20000000000005" fill="#3a2a22"/>
  <rect x="656.75" y="635.5" width="1.1" height="172.20000000000005" fill="#a8968a"/>
  <rect x="644.5" y="698" width="5" height="24" fill="#6d6f74" rx="0.8"/>
  <rect x="645.3" y="700" width="3.4" height="13.200000000000001" fill="#9a9ca2"/>
  <rect x="645" y="723" width="6" height="18" fill="#c9c9c9"/>
  <path d="M622,734 L752,756" fill="none" stroke="#d8ae12" stroke-width="8.2" stroke-linecap="round" stroke-linejoin="round"/>
  <path d="M622,734 L752,756" fill="none" stroke="#f6d02a" stroke-width="7" stroke-linecap="round" stroke-linejoin="round"/>
  <polygon points="622,731 640,733 640,739 622,737" fill="#f6d02a" stroke="#d8ae12" stroke-width="0.8"/>
  <polygon points="732,753 752,755 751,760 731,758" fill="#f6d02a" stroke="#d8ae12" stroke-width="0.8"/>
  <circle cx="681.7" cy="747" r="6" fill="#f6d02a" stroke="#d8ae12" stroke-width="0.8"/>
  <path d="M700,747 L705,740 M700,738 L711,738" fill="none" stroke="#d8ae12" stroke-width="3.4000000000000004" stroke-linecap="round" stroke-linejoin="round"/>
  <path d="M700,747 L705,740 M700,738 L711,738" fill="none" stroke="#f6d02a" stroke-width="2.2" stroke-linecap="round" stroke-linejoin="round"/>
  <path d="M640,740 L648,741" fill="none" stroke="#d8ae12" stroke-width="3.4000000000000004" stroke-linecap="round" stroke-linejoin="round"/>
  <path d="M640,740 L648,741" fill="none" stroke="#f6d02a" stroke-width="2.2" stroke-linecap="round" stroke-linejoin="round"/>
  <path d="M627,793 L645,789" fill="none" stroke="#a9a9a9" stroke-width="4.2" stroke-linecap="round" stroke-linejoin="round"/>
  <path d="M627,793 L645,789" fill="none" stroke="#e4e4e4" stroke-width="3" stroke-linecap="round" stroke-linejoin="round"/>
  <rect x="610.9" y="774" width="7" height="45.3" fill="url(#sv)"/><rect x="617.9" y="774" width="7.1" height="45.3" fill="#3a2a22"/>
  <path d="M557,750 L689,777" fill="none" stroke="#d8ae12" stroke-width="9.2" stroke-linecap="round" stroke-linejoin="round"/>
  <path d="M557,750 L689,777" fill="none" stroke="#f6d02a" stroke-width="8" stroke-linecap="round" stroke-linejoin="round"/>
  <polygon points="556,747 580,751 579,757 556,753" fill="#f6d02a" stroke="#d8ae12" stroke-width="0.8"/>
  <polygon points="662,770 690,775 689,781 661,776" fill="#f6d02a" stroke="#d8ae12" stroke-width="0.8"/>
  <circle cx="614.7" cy="766.4" r="7" fill="#f6d02a" stroke="#d8ae12" stroke-width="0.8"/>
  <path d="M584,750 L586,739 M580,739 L594,738" fill="none" stroke="#d8ae12" stroke-width="3.4000000000000004" stroke-linecap="round" stroke-linejoin="round"/>
  <path d="M584,750 L586,739 M580,739 L594,738" fill="none" stroke="#f6d02a" stroke-width="2.2" stroke-linecap="round" stroke-linejoin="round"/>
  <path d="M654,757 L656,752 M648,753 L662,752" fill="none" stroke="#d8ae12" stroke-width="3.4000000000000004" stroke-linecap="round" stroke-linejoin="round"/>
  <path d="M654,757 L656,752 M648,753 L662,752" fill="none" stroke="#f6d02a" stroke-width="2.2" stroke-linecap="round" stroke-linejoin="round"/>
  <g transform="translate(890.8,591.5) scale(0.945,0.945)">
  <path d="M-23,-34 L5,-31 L24,-15 L-4,-16.5 Z" fill="#c4c6ca"/>
  <path d="M-22,-33.5 L4.5,-30.5 L12,-24 L-12,-26.5 Z" fill="#5a5d66"/>
  <path d="M-17,-34 L-8,-27 M-10,-33 L-2,-26.5 M-3,-32 L5,-26" stroke="#8b8e96" stroke-width="0.6" fill="none"/>
  <path d="M0,-20 L3,-15" stroke="#999" stroke-width="1.5"/>
  <use href="#can"/>
  <path d="M20,-18 C45,-14.5 80,-8.5 113,-2 L113,1.5 C90,-2.0 55,-6.0 24,-13.9 Z" fill="#f2be2c"/>
  <path d="M24,-13.9 C55,-6.0 90,-2.0 113,1.5" fill="none" stroke="#a0977e" stroke-width="0.9"/>
  <path d="M20,-18 C45,-14.5 80,-8.5 113,-2" fill="none" stroke="#f4efe0" stroke-width="1.8"/>
  </g>
  <rect x="886.8" y="588" width="8" height="38" fill="url(#sv)" stroke="#bdbdbd" stroke-width="0.6"/>
  <path d="M808,777 L883,790 M896,785 L997,813" fill="none" stroke="#a9a9a9" stroke-width="5.2" stroke-linecap="round" stroke-linejoin="round"/>
  <path d="M808,777 L883,790 M896,785 L997,813" fill="none" stroke="#e4e4e4" stroke-width="4" stroke-linecap="round" stroke-linejoin="round"/>
  <rect x="880.6" y="625" width="21.699999999999932" height="4" fill="#e9e9e9" stroke="#b0b0b0" stroke-width="0.6"/>
  <rect x="890.8" y="629" width="9.0" height="164.60000000000002" fill="url(#sv)"/>
  <rect x="883.1" y="629" width="7.699999999999932" height="164.60000000000002" fill="#3a2a22"/>
  <rect x="886.45" y="629" width="1.1" height="164.60000000000002" fill="#a8968a"/>
  <rect x="892" y="660" width="4" height="22" fill="#6d6f74" rx="0.8"/>
  <rect x="892.8" y="662" width="2.4" height="12.100000000000001" fill="#9a9ca2"/>
  <path d="M792,706 L790,735 L805,757 L815,745 L826,706" fill="none" stroke="#d8ae12" stroke-width="4.2" stroke-linecap="round" stroke-linejoin="round"/>
  <path d="M792,706 L790,735 L805,757 L815,745 L826,706" fill="none" stroke="#f6d02a" stroke-width="3" stroke-linecap="round" stroke-linejoin="round"/>
  <rect x="797" y="700.5" width="26" height="6" rx="3" fill="#333"/>
  <polygon points="811,736 879,748 879,754 812,744" fill="#f6d02a" stroke="#d8ae12" stroke-width="0.8"/>
  <polygon points="806,741 835,742 836,749 807,747" fill="#f5d63a" stroke="#d8ae12" stroke-width="0.8"/>
  <path d="M815,755 L812,770 M845,752 L840,770" fill="none" stroke="#d8ae12" stroke-width="3.7" stroke-linecap="round" stroke-linejoin="round"/>
  <path d="M815,755 L812,770 M845,752 L840,770" fill="none" stroke="#f6d02a" stroke-width="2.5" stroke-linecap="round" stroke-linejoin="round"/>
  <circle cx="840" cy="771" r="4" fill="#f6d02a" stroke="#d8ae12" stroke-width="0.8"/>
  <rect x="809" y="766" width="8" height="8" fill="#666"/>
  <polygon points="904,756 991,758 991,764 904,762" fill="#f6d02a" stroke="#d8ae12" stroke-width="0.8"/>
  <path d="M986,725 L980,755 L985,775 L1000,785 L1014,760 L1010,722" fill="none" stroke="#d8ae12" stroke-width="4.2" stroke-linecap="round" stroke-linejoin="round"/>
  <path d="M986,725 L980,755 L985,775 L1000,785 L1014,760 L1010,722" fill="none" stroke="#f6d02a" stroke-width="3" stroke-linecap="round" stroke-linejoin="round"/>
  <rect x="986" y="719" width="23" height="6.5" rx="3" fill="#333"/>
  <path d="M935,765 L945,793" fill="none" stroke="#a9a9a9" stroke-width="4.2" stroke-linecap="round" stroke-linejoin="round"/>
  <path d="M935,765 L945,793" fill="none" stroke="#e4e4e4" stroke-width="3" stroke-linecap="round" stroke-linejoin="round"/>
  <circle cx="946" cy="795" r="5" fill="#f6d02a" stroke="#d8ae12" stroke-width="0.8"/>
  <path d="M990,785 L995,803" fill="none" stroke="#d8ae12" stroke-width="4.2" stroke-linecap="round" stroke-linejoin="round"/>
  <path d="M990,785 L995,803" fill="none" stroke="#f6d02a" stroke-width="3" stroke-linecap="round" stroke-linejoin="round"/>
  <rect x="989" y="803" width="10" height="9" fill="#666"/>
  <g transform="translate(1143.4,597) scale(1.035,1.035)">
  <path d="M-23,-34 L5,-31 L24,-15 L-4,-16.5 Z" fill="#c4c6ca"/>
  <path d="M-22,-33.5 L4.5,-30.5 L12,-24 L-12,-26.5 Z" fill="#5a5d66"/>
  <path d="M-17,-34 L-8,-27 M-10,-33 L-2,-26.5 M-3,-32 L5,-26" stroke="#8b8e96" stroke-width="0.6" fill="none"/>
  <path d="M0,-20 L3,-15" stroke="#999" stroke-width="1.5"/>
  <use href="#can"/>
  <path d="M20,-18 C45,-14.5 80,-8.5 113,-2 L113,1.5 C90,-0.5 55,-4.0 24,-12.7 Z" fill="#f2be2c"/>
  <path d="M24,-12.7 C55,-4.0 90,-0.5 113,1.5" fill="none" stroke="#a0977e" stroke-width="0.9"/>
  <path d="M20,-18 C45,-14.5 80,-8.5 113,-2" fill="none" stroke="#f4efe0" stroke-width="1.8"/>
  </g>
  <rect x="1139.4" y="594" width="8" height="42.39999999999998" fill="url(#sv)" stroke="#bdbdbd" stroke-width="0.6"/>
  <rect x="1131.9" y="635.4" width="23.09999999999991" height="4" fill="#e9e9e9" stroke="#b0b0b0" stroke-width="0.6"/>
  <rect x="1143.4" y="639.4" width="9.099999999999909" height="181.30000000000007" fill="url(#sv)"/>
  <rect x="1134.4" y="639.4" width="9.0" height="181.30000000000007" fill="#3a2a22"/>
  <rect x="1138.4" y="639.4" width="1.1" height="181.30000000000007" fill="#a8968a"/>
  <rect x="1146.5" y="667" width="4" height="22" fill="#6d6f74" rx="0.8"/>
  <rect x="1147.3" y="669" width="2.4" height="12.100000000000001" fill="#9a9ca2"/>
  <path d="M1093,717 C1100,730 1110,742 1133,741" fill="none" stroke="#a9a9a9" stroke-width="4.4" stroke-linecap="round" stroke-linejoin="round"/>
  <path d="M1093,717 C1100,730 1110,742 1133,741" fill="none" stroke="#e4e4e4" stroke-width="3.2" stroke-linecap="round" stroke-linejoin="round"/>
  <path d="M1143,754 C1160,748 1180,745 1194,730" fill="none" stroke="#a9a9a9" stroke-width="4.4" stroke-linecap="round" stroke-linejoin="round"/>
  <path d="M1143,754 C1160,748 1180,745 1194,730" fill="none" stroke="#e4e4e4" stroke-width="3.2" stroke-linecap="round" stroke-linejoin="round"/>
  <path d="M1130,712 L1135,715" fill="none" stroke="#a9a9a9" stroke-width="4.2" stroke-linecap="round" stroke-linejoin="round"/>
  <path d="M1130,712 L1135,715" fill="none" stroke="#e4e4e4" stroke-width="3" stroke-linecap="round" stroke-linejoin="round"/>
  <ellipse cx="1089.3" cy="712.4" rx="14.5" ry="8" transform="rotate(-22 1089.3 712.4)" fill="#e9be18" stroke="#b99514" stroke-width="0.8"/>
  <ellipse cx="1128" cy="710" rx="8" ry="9" fill="#e9be18" stroke="#b99514" stroke-width="0.8"/>
  <ellipse cx="1155.5" cy="732" rx="15" ry="12" transform="rotate(30 1155.5 732)" fill="#f2c81e" stroke="#b99514" stroke-width="0.8"/>
  <ellipse cx="1199" cy="724" rx="14" ry="10.5" transform="rotate(38 1199 724)" fill="#f2c81e" stroke="#b99514" stroke-width="0.8"/>
  <circle cx="1160" cy="741" r="2.5" fill="#3a2f22"/><circle cx="1209" cy="732" r="2.5" fill="#3a2f22"/>
  <rect x="1091" y="694" width="3" height="6" fill="#333"/>
  <g transform="translate(1383.2,594.5) scale(0.955,0.955)">
  <path d="M-23,-34 L5,-31 L24,-15 L-4,-16.5 Z" fill="#d0d1d3"/><path d="M-21,-33 L4.5,-30 L22,-15.8 L-3,-17.3 Z" fill="#43464f"/>
  <path d="M-15,-32.3 L3,-17 M-9,-31.6 L9,-16.6 M-3,-31 L15,-16.2 M-17,-28 L9,-25.5 M-12,-23.5 L14,-21.3" stroke="#7d818b" stroke-width="0.6" fill="none"/>
  <path d="M0,-20 L3,-15" stroke="#999" stroke-width="1.5"/>
  <use href="#can"/>
  <path d="M20,-18 C45,-14.5 80,-8.5 113,-2 L113,1.5 C90,1.0 55,-2.0 24,-11.5 Z" fill="#f2be2c"/>
  <path d="M24,-11.5 C55,-2.0 90,1.0 113,1.5" fill="none" stroke="#a0977e" stroke-width="0.9"/>
  <path d="M20,-18 C45,-14.5 80,-8.5 113,-2" fill="none" stroke="#f4efe0" stroke-width="1.8"/>
  </g>
  <rect x="1379.2" y="591" width="8" height="41.5" fill="url(#sv)" stroke="#bdbdbd" stroke-width="0.6"/>
  <path d="M1358,722 L1376,720" fill="none" stroke="#a9a9a9" stroke-width="4.2" stroke-linecap="round" stroke-linejoin="round"/>
  <path d="M1358,722 L1376,720" fill="none" stroke="#e4e4e4" stroke-width="3" stroke-linecap="round" stroke-linejoin="round"/>
  <path d="M1359,702 C1361,730 1362,765 1359,784 C1356,796 1340,797 1326,789 L1315,774" fill="none" stroke="#a9a9a9" stroke-width="7.2" stroke-linecap="round" stroke-linejoin="round"/>
  <path d="M1359,702 C1361,730 1362,765 1359,784 C1356,796 1340,797 1326,789 L1315,774" fill="none" stroke="#e4e4e4" stroke-width="6" stroke-linecap="round" stroke-linejoin="round"/>
  <path d="M1339,667 L1340,684 L1348,703 L1347,764 M1372,665 L1370,690 L1374,762" fill="none" stroke="#d8ae12" stroke-width="4.4" stroke-linecap="round" stroke-linejoin="round"/>
  <path d="M1339,667 L1340,684 L1348,703 L1347,764 M1372,665 L1370,690 L1374,762" fill="none" stroke="#f6d02a" stroke-width="3.2" stroke-linecap="round" stroke-linejoin="round"/>
  <path d="M1299,774 L1320,768 L1349,757 M1318,748 L1340,752 L1371,768" fill="none" stroke="#d8ae12" stroke-width="5.7" stroke-linecap="round" stroke-linejoin="round"/>
  <path d="M1299,774 L1320,768 L1349,757 M1318,748 L1340,752 L1371,768" fill="none" stroke="#f6d02a" stroke-width="4.5" stroke-linecap="round" stroke-linejoin="round"/>
  <polygon points="1297,771 1318,765 1320,772 1299,778" fill="#f6d02a" stroke="#d8ae12" stroke-width="0.8"/>
  <rect x="1372.9" y="631.5" width="23.09999999999991" height="4" fill="#e9e9e9" stroke="#b0b0b0" stroke-width="0.6"/>
  <rect x="1383.2" y="635.5" width="10.299999999999955" height="168.5" fill="url(#sv)"/>
  <rect x="1375.4" y="635.5" width="7.7999999999999545" height="168.5" fill="#3a2a22"/>
  <rect x="1378.8000000000002" y="635.5" width="1.1" height="168.5" fill="#a8968a"/>
  <rect x="1385.5" y="665" width="4" height="22" fill="#6d6f74" rx="0.8"/>
  <rect x="1386.3" y="667" width="2.4" height="12.100000000000001" fill="#9a9ca2"/>
  <path d="M1393,722 L1412,724" fill="none" stroke="#a9a9a9" stroke-width="4.2" stroke-linecap="round" stroke-linejoin="round"/>
  <path d="M1393,722 L1412,724" fill="none" stroke="#e4e4e4" stroke-width="3" stroke-linecap="round" stroke-linejoin="round"/>
  <path d="M1411,705 C1409,740 1407,775 1409,792 C1412,808 1428,812 1442,807 L1476,798 L1484,792" fill="none" stroke="#a9a9a9" stroke-width="7.2" stroke-linecap="round" stroke-linejoin="round"/>
  <path d="M1411,705 C1409,740 1407,775 1409,792 C1412,808 1428,812 1442,807 L1476,798 L1484,792" fill="none" stroke="#e4e4e4" stroke-width="6" stroke-linecap="round" stroke-linejoin="round"/>
  <path d="M1396,669 L1400,690 L1398,774 M1428,667 L1424,690 L1423,772" fill="none" stroke="#d8ae12" stroke-width="4.4" stroke-linecap="round" stroke-linejoin="round"/>
  <path d="M1396,669 L1400,690 L1398,774 M1428,667 L1424,690 L1423,772" fill="none" stroke="#f6d02a" stroke-width="3.2" stroke-linecap="round" stroke-linejoin="round"/>
  <path d="M1394,777 L1440,782 L1470,792 L1486,807" fill="none" stroke="#d8ae12" stroke-width="6.2" stroke-linecap="round" stroke-linejoin="round"/>
  <path d="M1394,777 L1440,782 L1470,792 L1486,807" fill="none" stroke="#f6d02a" stroke-width="5" stroke-linecap="round" stroke-linejoin="round"/>
  <polygon points="1440,778 1470,786 1468,793 1438,786" fill="#f6d02a" stroke="#d8ae12" stroke-width="0.8"/>
  <circle cx="1348" cy="705" r="3.8" fill="#f6d02a" stroke="#d8ae12" stroke-width="0.6"/>
  <circle cx="1372" cy="702" r="3.8" fill="#f6d02a" stroke="#d8ae12" stroke-width="0.6"/>
  <circle cx="1398" cy="712" r="3.8" fill="#f6d02a" stroke="#d8ae12" stroke-width="0.6"/>
  <circle cx="1424" cy="708" r="3.8" fill="#f6d02a" stroke="#d8ae12" stroke-width="0.6"/>
  <g transform="translate(1623.5,598) scale(1.02,1.02)">
  <path d="M-23,-34 L5,-31 L24,-15 L-4,-16.5 Z" fill="#c4c6ca"/>
  <path d="M-22,-33.5 L4.5,-30.5 L12,-24 L-12,-26.5 Z" fill="#5a5d66"/>
  <path d="M-17,-34 L-8,-27 M-10,-33 L-2,-26.5 M-3,-32 L5,-26" stroke="#8b8e96" stroke-width="0.6" fill="none"/>
  <path d="M0,-20 L3,-15" stroke="#999" stroke-width="1.5"/>
  <use href="#can"/>
  <path d="M20,-18 C45,-14.5 80,-8.5 113,-2 L113,1.5 C90,-2.0 55,-6.0 24,-13.9 Z" fill="#f2be2c"/>
  <path d="M24,-13.9 C55,-6.0 90,-2.0 113,1.5" fill="none" stroke="#a0977e" stroke-width="0.9"/>
  <path d="M20,-18 C45,-14.5 80,-8.5 113,-2" fill="none" stroke="#f4efe0" stroke-width="1.8"/>
  </g>
  <rect x="1619.5" y="595" width="8" height="41.39999999999998" fill="url(#sv)" stroke="#bdbdbd" stroke-width="0.6"/>
  <rect x="1611.9" y="635.4" width="23.09999999999991" height="4" fill="#e9e9e9" stroke="#b0b0b0" stroke-width="0.6"/>
  <rect x="1623.5" y="639.4" width="9.0" height="177.5" fill="url(#sv)"/>
  <rect x="1614.4" y="639.4" width="9.099999999999909" height="177.5" fill="#3a2a22"/>
  <rect x="1618.45" y="639.4" width="1.1" height="177.5" fill="#a8968a"/>
  <rect x="1626" y="667" width="4" height="22" fill="#6d6f74" rx="0.8"/>
  <rect x="1626.8" y="669" width="2.4" height="12.100000000000001" fill="#9a9ca2"/>
  <path d="M1571,705 C1590,703 1605,707 1620,705 C1640,703 1655,704 1675,707" fill="none" stroke="#a9a9a9" stroke-width="4.4" stroke-linecap="round" stroke-linejoin="round"/>
  <path d="M1571,705 C1590,703 1605,707 1620,705 C1640,703 1655,704 1675,707" fill="none" stroke="#e4e4e4" stroke-width="3.2" stroke-linecap="round" stroke-linejoin="round"/>
  <path d="M1611,722 L1611,804 M1635,722 L1635,804" fill="none" stroke="#d8ae12" stroke-width="6.2" stroke-linecap="round" stroke-linejoin="round"/>
  <path d="M1611,722 L1611,804 M1635,722 L1635,804" fill="none" stroke="#f6d02a" stroke-width="5" stroke-linecap="round" stroke-linejoin="round"/>
  <circle cx="1611" cy="722" r="3.5" fill="#f6d02a"/><circle cx="1635" cy="722" r="4" fill="#ddd" stroke="#aaa" stroke-width="0.6"/>
  <polygon points="1581,792 1607,790 1611,800 1584,802" fill="#262626"/>
  <polygon points="1628,800 1665,799 1669,809 1630,811" fill="#262626"/>
  <g transform="translate(1865,598) scale(1.03,1.03)">
  <path d="M-23,-34 L5,-31 L24,-15 L-4,-16.5 Z" fill="#c4c6ca"/>
  <path d="M-22,-33.5 L4.5,-30.5 L12,-24 L-12,-26.5 Z" fill="#5a5d66"/>
  <path d="M-17,-34 L-8,-27 M-10,-33 L-2,-26.5 M-3,-32 L5,-26" stroke="#8b8e96" stroke-width="0.6" fill="none"/>
  <path d="M0,-20 L3,-15" stroke="#999" stroke-width="1.5"/>
  <use href="#can"/>
  <path d="M20,-18 C45,-14.5 80,-8.5 113,-2 L113,1.5 C90,-2.0 55,-6.0 24,-13.9 Z" fill="#efe6c6"/>
  <path d="M24,-13.9 C55,-6.0 90,-2.0 113,1.5" fill="none" stroke="#a0977e" stroke-width="0.9"/>
  <path d="M20,-18 C45,-14.5 80,-8.5 113,-2" fill="none" stroke="#f4efe0" stroke-width="1.8"/>
  </g>
  <rect x="1861" y="595" width="8" height="41.39999999999998" fill="url(#sv)" stroke="#bdbdbd" stroke-width="0.6"/>
  <polygon points="1822,658 1830,648 1905,648 1912,658" fill="#cfcfcf" stroke="#9d9d9d" stroke-width="0.8"/>
  <path d="M1822,751 L1856,751 M1871,752 L1910,766" fill="none" stroke="#a9a9a9" stroke-width="4.7" stroke-linecap="round" stroke-linejoin="round"/>
  <path d="M1822,751 L1856,751 M1871,752 L1910,766" fill="none" stroke="#e4e4e4" stroke-width="3.5" stroke-linecap="round" stroke-linejoin="round"/>
  <rect x="1853.2" y="635.4" width="24.299999999999955" height="4" fill="#e9e9e9" stroke="#b0b0b0" stroke-width="0.6"/>
  <rect x="1864.7" y="639.4" width="10.299999999999955" height="181.30000000000007" fill="url(#sv)"/>
  <rect x="1855.7" y="639.4" width="9.0" height="181.30000000000007" fill="#3a2a22"/>
  <rect x="1859.7" y="639.4" width="1.1" height="181.30000000000007" fill="#a8968a"/>
  <rect x="1867" y="682" width="4" height="26" fill="#6d6f74" rx="0.8"/>
  <rect x="1867.8" y="684" width="2.4" height="14.3" fill="#9a9ca2"/>
  <path d="M1778,725 L1780,680 L1838,676" fill="none" stroke="#d8ae12" stroke-width="4.2" stroke-linecap="round" stroke-linejoin="round"/>
  <path d="M1778,725 L1780,680 L1838,676" fill="none" stroke="#f6d02a" stroke-width="3" stroke-linecap="round" stroke-linejoin="round"/>
  <path d="M1822,662 L1821,740 L1818,760 L1808,765 L1786,760" fill="none" stroke="#d8ae12" stroke-width="5.2" stroke-linecap="round" stroke-linejoin="round"/>
  <path d="M1822,662 L1821,740 L1818,760 L1808,765 L1786,760" fill="none" stroke="#f6d02a" stroke-width="4" stroke-linecap="round" stroke-linejoin="round"/>
  <polygon points="1807,718 1826,717 1826,743 1807,744" fill="#f5d63a" stroke="#d8ae12" stroke-width="0.8"/>
  <polygon points="1785,757 1810,760 1818,767 1790,766" fill="#f6d02a" stroke="#d8ae12" stroke-width="0.8"/>
  <circle cx="1824" cy="664" r="5" fill="#f6d02a" stroke="#d8ae12" stroke-width="0.6"/>
  <path d="M1896,676 L1955,679 L1963,735" fill="none" stroke="#d8ae12" stroke-width="4.2" stroke-linecap="round" stroke-linejoin="round"/>
  <path d="M1896,676 L1955,679 L1963,735" fill="none" stroke="#f6d02a" stroke-width="3" stroke-linecap="round" stroke-linejoin="round"/>
  <path d="M1907,662 L1916,700 L1920,770 L1925,785 L1960,790" fill="none" stroke="#d8ae12" stroke-width="5.2" stroke-linecap="round" stroke-linejoin="round"/>
  <path d="M1907,662 L1916,700 L1920,770 L1925,785 L1960,790" fill="none" stroke="#f6d02a" stroke-width="4" stroke-linecap="round" stroke-linejoin="round"/>
  <polygon points="1911,728 1929,728 1929,758 1911,759" fill="#f5d63a" stroke="#d8ae12" stroke-width="0.8"/>
  <polygon points="1922,781 1962,783 1964,791 1926,791" fill="#f6d02a" stroke="#d8ae12" stroke-width="0.8"/>
  <circle cx="1908" cy="664" r="6" fill="#f6d02a" stroke="#d8ae12" stroke-width="0.6"/>
  <g id="icons">
  <rect x="1095" y="877" width="112" height="112" fill="#f5f5f5"/>
  <rect x="1220" y="877" width="112" height="113" fill="#f6f6f6"/>
  <rect x="1346" y="877" width="111" height="112" fill="#fafafa"/>
  <rect x="1472" y="877" width="112" height="112" fill="#f5f5f5"/>
  <rect x="1598" y="877" width="130" height="115" fill="#f3f3f3"/>
  <g stroke="#1b94d6" stroke-width="6.5" stroke-linecap="round"><path d="M1116.2,926.5 V964 M1140.6,884.3 V964 M1161.4,909 V964 M1185.9,922.6 V964 M1106,981.6 H1199.9"/></g>
  <rect x="1242.3" y="878" width="67.6" height="110.5" rx="8" fill="#1b94d6"/>
  <rect x="1249.5" y="883.2" width="52.6" height="87.1" rx="5" fill="#f7f7f7"/>
  <g stroke="#1b94d6" stroke-width="4.5"><path d="M1264.5,918.2 L1281.5,900.5 M1261.9,940.3 L1293.3,904"/></g>
  <rect x="1353.3000000000002" y="883.5" width="29.2" height="29.2" fill="none" stroke="#1b94d6" stroke-width="5.8"/>
  <rect x="1422.3000000000002" y="883.5" width="29.2" height="29.2" fill="none" stroke="#1b94d6" stroke-width="5.8"/>
  <rect x="1353.3000000000002" y="953.1" width="29.2" height="29.2" fill="none" stroke="#1b94d6" stroke-width="5.8"/>
  <rect x="1362.1000000000001" y="892.3000000000001" width="11.3" height="11.3" fill="#1b94d6"/><rect x="1431.1000000000001" y="892.3000000000001" width="11.3" height="11.3" fill="#1b94d6"/><rect x="1362.1000000000001" y="961.9000000000001" width="11.3" height="11.3" fill="#1b94d6"/><rect x="1399.2" y="881.1" width="13.3" height="5.1" fill="#1b94d6"/><rect x="1406.3" y="886" width="6.2" height="12.5" fill="#1b94d6"/><rect x="1393" y="894.4" width="4.2" height="3.4" fill="#1b94d6"/><rect x="1358.3" y="924" width="5.1" height="5.4" fill="#1b94d6"/><rect x="1361.4" y="929" width="5.6" height="6.3" fill="#1b94d6"/><rect x="1350.6" y="937.4" width="6.2" height="4.1" fill="#1b94d6"/><rect x="1441" y="924" width="6.2" height="4.4" fill="#1b94d6"/><rect x="1449.3" y="930.2" width="4.6" height="19.4" fill="#1b94d6"/><rect x="1441" y="937.4" width="8.3" height="5.1" fill="#1b94d6"/><polygon points="1441,960 1454,958.8 1454,971 " fill="#1b94d6"/><rect x="1393" y="971.6" width="4.7" height="5.1" fill="#1b94d6"/><rect x="1412.5" y="972.1" width="6.1" height="8.2" fill="#1b94d6"/><rect x="1399.2" y="980.3" width="32.8" height="4.6" fill="#1b94d6"/>
  <circle cx="1404.3" cy="934.2" r="35" fill="#fafafa"/>
  <circle cx="1404.3" cy="934.2" r="30" fill="none" stroke="#1b94d6" stroke-width="6.8"/>
  <path d="M1431,957 L1450,979" stroke="#fafafa" stroke-width="11" stroke-linecap="round"/>
  <path d="M1431,957 L1450,979" stroke="#1b94d6" stroke-width="7" stroke-linecap="round"/>
  <rect x="1498.6" y="883.9" width="60.4" height="97.5" rx="6" fill="#1b94d6"/>
  <rect x="1504.5" y="891.7" width="48.7" height="25" rx="1.5" fill="#f5f5f5"/>
  <rect x="1504.5" y="947" width="48.7" height="22" rx="1.5" fill="#f5f5f5"/>
  <rect x="1486.9" y="913.1" width="83.2" height="37.7" fill="#1b94d6"/>
  <text x="1528.5" y="944.3" text-anchor="middle" font-family="Liberation Sans" font-weight="bold" font-size="33.5" fill="#f7f7f7" letter-spacing="-0.5">APP</text>
  <circle cx="1528.5" cy="975.5" r="3.2" fill="#f5f5f5"/>
  <g fill="none" stroke="#1b94d6" stroke-width="3.3" stroke-linejoin="round"><polygon points="1629.5,916.5 1646.8,916.5 1645.6,928.2 1627.8,928.2"/><polygon points="1655.4,916.5 1672.4,916.5 1673.2,928.2 1655.2,928.2"/><polygon points="1680.8,916.5 1697.2,916.5 1700.4,928.2 1681.3,928.2"/><polygon points="1623,936.5 1643.6,936.5 1642.5,955.4 1620.5,955.4"/><polygon points="1653.4,936.5 1673.6,936.5 1674.9,955.4 1652.8,955.4"/><polygon points="1683.3,936.5 1702.8,936.5 1707.6,955.4 1684.6,955.4"/></g>
  <path d="M1617.5,962.5 H1711" stroke="#1b94d6" stroke-width="3.3" stroke-linecap="round"/>
  <rect x="1761.6" y="890.4" width="54" height="75.4" rx="6.5" fill="#1b94d6"/>
  <rect x="1777.2" y="885.2" width="22.8" height="8" rx="3" fill="#1b94d6"/>
  <polygon points="1793.5,900.1 1773.3,930.7 1788.6,928.8 1778.5,958.6 1805.2,924.8 1790,926.2" fill="#ffffff"/>
  <g stroke="#1b94d6" stroke-width="4.8" fill="none"><path d="M1896.5,902 V892 H1906.5 V902"/><path d="M1896.5,902 C1889,906 1886,913 1886,921.5 C1886,932 1893,940 1901.6,940 C1910.2,940 1917.2,932 1917.2,921.5 C1917.2,913 1914,906 1906.5,902"/><path d="M1858.4,920.8 H1877 M1926.2,920.8 H1944.8 M1864.4,947.2 L1880,935.8 M1923.2,935.8 L1939.4,947.2 M1880.6,964.6 L1889.4,946.6 M1901.9,950.2 V971.2 M1914.2,946.6 L1923,964.6"/></g>
  <rect x="1893.2" y="886.6" width="16.8" height="8.5" rx="2" fill="#1b94d6"/>
  </g>
  <!--/ART-->
  <!-- timeline -->
  <line x1="535" y1="505.3" x2="1974" y2="505.3" stroke="#8db04d" stroke-width="2"/>
  <path d="M1960.3 497.2 L1975.6 505.3 L1960.3 513 L1967.2 505.3 Z" fill="#8db04d"/>
  <ellipse cx="527.8" cy="505.5" rx="7.6" ry="21.6" fill="#fbbd08"/>

  <!-- dashed box -->
  <g stroke="#7f7f7f" stroke-width="2" fill="none" stroke-dasharray="8.5 6">
    <line x1="30" y1="857" x2="1967" y2="857"/>
    <line x1="31" y1="864" x2="31" y2="1091"/>
    <line x1="1966.3" y1="857" x2="1966.3" y2="1091"/>
    <line x1="30" y1="1091" x2="1967" y2="1091"/>
  </g>
</svg>

<div class="cap1">SH-O4060ZD</div>
<div class="cap2">智能竞赛健身车</div>

<div class="intro-h">产品简介：</div>
<div class="intro">
<div>1、主立柱内衬矩形钢管，两侧修饰塑木边条，塑木边条上镶嵌铝条。</div>
<div>2、遮阳棚采用进口材质<span class="hw2"><span class="hw">PC</span></span>耐力板，遮阳棚上安装太阳能板。</div>
<div>3、配有<span class="hw3"><span class="hw">LCD</span></span>显示屏，并且能语音播报运动数据。</div>
<div>4、扫码获取并存储运动数据、查看运动指导视频及一键报修。</div>
</div>

<div class="lbl" style="left:1127px;top:997.5px;width:62px;">运动<br>数据</div>
<div class="lbl" style="left:1230px;top:1005.5px;width:105px;">LCD屏</div>
<div class="lbl" style="left:1358px;top:1005.5px;width:100px;">二维码</div>
<div class="lbl" style="left:1490px;top:1004px;width:76px;">APP</div>
<div class="lbl" style="left:1631px;top:989.5px;width:62px;">绿色<br>供电</div>
<div class="lbl" style="left:1760px;top:991.5px;width:62px;">手机<br>充电</div>
<div class="lbl" style="left:1877px;top:989.5px;width:62px;">智能<br>灯控</div>
</body>
</html>
